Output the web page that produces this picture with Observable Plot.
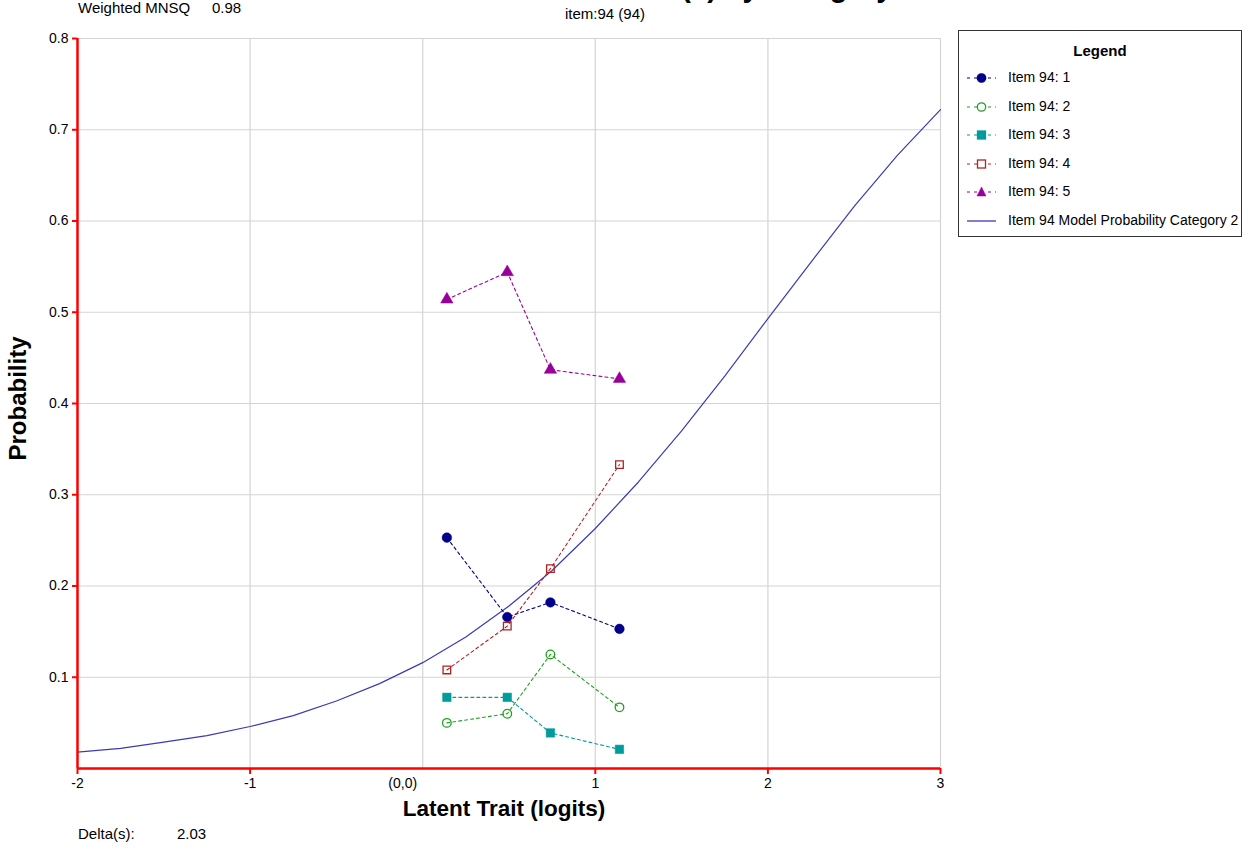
<!DOCTYPE html>
<html>
<head>
<meta charset="utf-8">
<script src="https://cdn.jsdelivr.net/npm/d3@7"></script>
<script src="https://cdn.jsdelivr.net/npm/@observablehq/plot@0.6"></script>
<style>
  html, body { margin: 0; padding: 0; background: #fff; }
  #wrap { position: relative; width: 1248px; height: 852px; overflow: hidden; font-family: "Liberation Sans", Arial, sans-serif; color: #000; }
  .abs { position: absolute; white-space: pre; }
  #chart { position: absolute; left: 0; top: 0; }
  #legend { position: absolute; left: 958px; top: 30px; width: 284px; height: 207px; border: 1px solid #333; box-sizing: border-box; background: #fff; }
  #legend .ttl { position: absolute; left: 0; width: 100%; top: 11px; text-align: center; font-weight: bold; font-size: 15px; }
  #legend .row { position: absolute; left: 0; height: 20px; }
  #legend .row svg { position: absolute; left: 7px; top: 0; }
  #legend .row span { position: absolute; left: 49px; top: 1px; font-size: 14px; white-space: nowrap; }
</style>
</head>
<body>
<div id="wrap">
  <div id="chart"></div>
  <div class="abs" id="title" style="left:330px; top:-27px; font-size:29px; font-weight:bold; line-height:29px;">Item Characteristic Curve(s) by Category</div>
  <div class="abs" style="left:565px; top:5px; font-size:15px; line-height:17px;">item:94 (94)</div>
  <div class="abs" style="left:78px; top:-1px; font-size:15px; line-height:17px;">Weighted MNSQ</div>
  <div class="abs" style="left:212px; top:-1px; font-size:15px; line-height:17px;">0.98</div>
  <div class="abs" style="left:78px; top:825px; font-size:15px; line-height:17px;">Delta(s):</div>
  <div class="abs" style="left:177px; top:825px; font-size:15px; line-height:17px;">2.03</div>
  <div id="legend"><div class="ttl">Legend</div></div>
</div>
<script>
// ---- data ----
const thetas = [0.14, 0.49, 0.74, 1.14];
const cat1 = [0.253, 0.166, 0.182, 0.153];
const cat2 = [0.050, 0.060, 0.125, 0.067];
const cat3 = [0.078, 0.078, 0.039, 0.021];
const cat4 = [0.108, 0.156, 0.219, 0.333];
const cat5 = [0.514, 0.544, 0.437, 0.427];
const seriesNames = ["Item 94: 1", "Item 94: 2", "Item 94: 3", "Item 94: 4", "Item 94: 5"];
const modelName = "Item 94 Model Probability Category 2";

const curveTheta = [-2, -1.75, -1.5, -1.25, -1, -0.75, -0.5, -0.25, 0, 0.25, 0.5, 0.75, 1, 1.25, 1.5, 1.75, 2, 2.25, 2.5, 2.75, 3];
const curveProb  = [0.018, 0.022, 0.029, 0.036, 0.046, 0.058, 0.074, 0.093, 0.116, 0.144, 0.178, 0.217, 0.263, 0.314, 0.370, 0.430, 0.493, 0.555, 0.616, 0.672, 0.722];

const xTicks = [-2, -1, 0, 1, 2, 3];
const xTickLabels = ["-2", "-1", "(0,0)", "1", "2", "3"];
const yTicks = [0.1, 0.2, 0.3, 0.4, 0.5, 0.6, 0.7, 0.8];
const yTickLabels = ["0.1", "0.2", "0.3", "0.4", "0.5", "0.6", "0.7", "0.8"];
const xTitle = "Latent Trait (logits)";
const yTitle = "Probability";

// ---- styles ----
const seriesValues = [cat1, cat2, cat3, cat4, cat5];
const colors = ["#00008b", "#22a022", "#009b9b", "#b22222", "#990099"];
const symbols = ["circle", "circle", "square", "square", "triangle"];
const filled = [true, false, true, false, true];
const modelColor = "#3a3ab4";

const obs = seriesNames.map((name, i) => thetas.map((t, j) => ({theta: t, p: seriesValues[i][j], series: name})));
const curve = curveTheta.map((t, i) => ({theta: t, p: curveProb[i]}));
const xLabelRows = xTicks.map((t, i) => ({t, label: xTickLabels[i]}));

const marks = [
  Plot.gridX({ticks: xTicks, stroke: "#d4d4d4", strokeOpacity: 1, strokeWidth: 1.2}),
  Plot.gridY({ticks: yTicks, stroke: "#d4d4d4", strokeOpacity: 1, strokeWidth: 1.2}),
  Plot.line(curve, {x: "theta", y: "p", stroke: modelColor, strokeWidth: 1.2}),
];
obs.forEach((d, i) => {
  marks.push(Plot.line(d, {x: "theta", y: "p", stroke: colors[i], strokeWidth: 1.1, strokeDasharray: "3,3"}));
  marks.push(Plot.dot(d, {
    x: "theta", y: "p", symbol: symbols[i], r: symbols[i] === "triangle" ? 4.6 : (filled[i] ? 4.8 : 4.3),
    fill: filled[i] ? colors[i] : "none", stroke: colors[i], strokeWidth: filled[i] ? 0.5 : 1.3
  }));
});
marks.push(
  Plot.ruleX([-2], {stroke: "red", strokeWidth: 2.5}),
  Plot.ruleY([0], {stroke: "red", strokeWidth: 2.5}),
  Plot.axisY({ticks: yTicks, tickSize: 5, tickPadding: 4, stroke: "red", strokeWidth: 2, fill: "#000", fontSize: 14,
              tickFormat: d => yTickLabels[yTicks.findIndex(v => Math.abs(v - d) < 1e-9)], label: null}),
  Plot.axisX({ticks: xTicks.filter(t => t !== 0), tickSize: 6, stroke: "red", strokeWidth: 2, tickFormat: () => "", label: null}),
  Plot.text(xLabelRows.filter(d => d.t !== 0), {x: "t", text: "label", frameAnchor: "bottom", dy: 19, fontSize: 14, fill: "#000"}),
  Plot.text(xLabelRows.filter(d => d.t === 0), {x: "t", text: "label", frameAnchor: "bottom", dy: 19, dx: -20, fontSize: 14, fill: "#000"}),
  Plot.text([xTitle], {frameAnchor: "bottom", dx: -5, dy: 47, fontSize: 22.5, fontWeight: "bold", fill: "#000"}),
  Plot.text([yTitle], {frameAnchor: "left", textAnchor: "middle", dx: -59, dy: -5, rotate: -90, fontSize: 24, fontWeight: "bold", fill: "#000"})
);

const chart = Plot.plot({
  width: 950,
  height: 852,
  marginLeft: 77,
  marginRight: 10,
  marginTop: 38,
  marginBottom: 84,
  x: {domain: [-2, 3]},
  y: {domain: [0, 0.8]},
  style: {fontFamily: '"Liberation Sans", Arial, sans-serif', fontSize: "14px", background: "transparent", overflow: "visible"},
  marks
});
document.getElementById("chart").appendChild(chart);

// ---- legend ----
const legend = document.getElementById("legend");
const rowTops = [37, 66, 94, 123, 151, 180];
const ns = "http://www.w3.org/2000/svg";
function makeRow(top, label, drawFn) {
  const row = document.createElement("div");
  row.className = "row";
  row.style.top = top + "px";
  const svg = document.createElementNS(ns, "svg");
  svg.setAttribute("width", 32); svg.setAttribute("height", 20);
  drawFn(svg);
  row.appendChild(svg);
  const sp = document.createElement("span");
  sp.textContent = label;
  row.appendChild(sp);
  legend.appendChild(row);
}
function el(tag, attrs) { const e = document.createElementNS(ns, tag); for (const k in attrs) e.setAttribute(k, attrs[k]); return e; }
seriesNames.forEach((name, i) => {
  makeRow(rowTops[i], name, svg => {
    svg.appendChild(el("line", {x1: 1, x2: 30, y1: 10, y2: 10, stroke: colors[i], "stroke-width": 1.2, "stroke-dasharray": "3,4"}));
    const fill = filled[i] ? colors[i] : "#fff";
    let shape;
    if (symbols[i] === "circle") shape = el("circle", {cx: 15.5, cy: 10, r: 4.2, fill, stroke: colors[i], "stroke-width": 1.3});
    else if (symbols[i] === "square") shape = el("rect", {x: 11.5, y: 6, width: 8, height: 8, fill, stroke: colors[i], "stroke-width": 1.3});
    else shape = el("path", {d: "M15.5,5 L20,14 L11,14 Z", fill, stroke: colors[i], "stroke-width": 0.5});
    svg.appendChild(shape);
  });
});
makeRow(rowTops[5], modelName, svg => {
  svg.appendChild(el("line", {x1: 1, x2: 30, y1: 10, y2: 10, stroke: modelColor, "stroke-width": 1.3}));
});
</script>
</body>
</html>
